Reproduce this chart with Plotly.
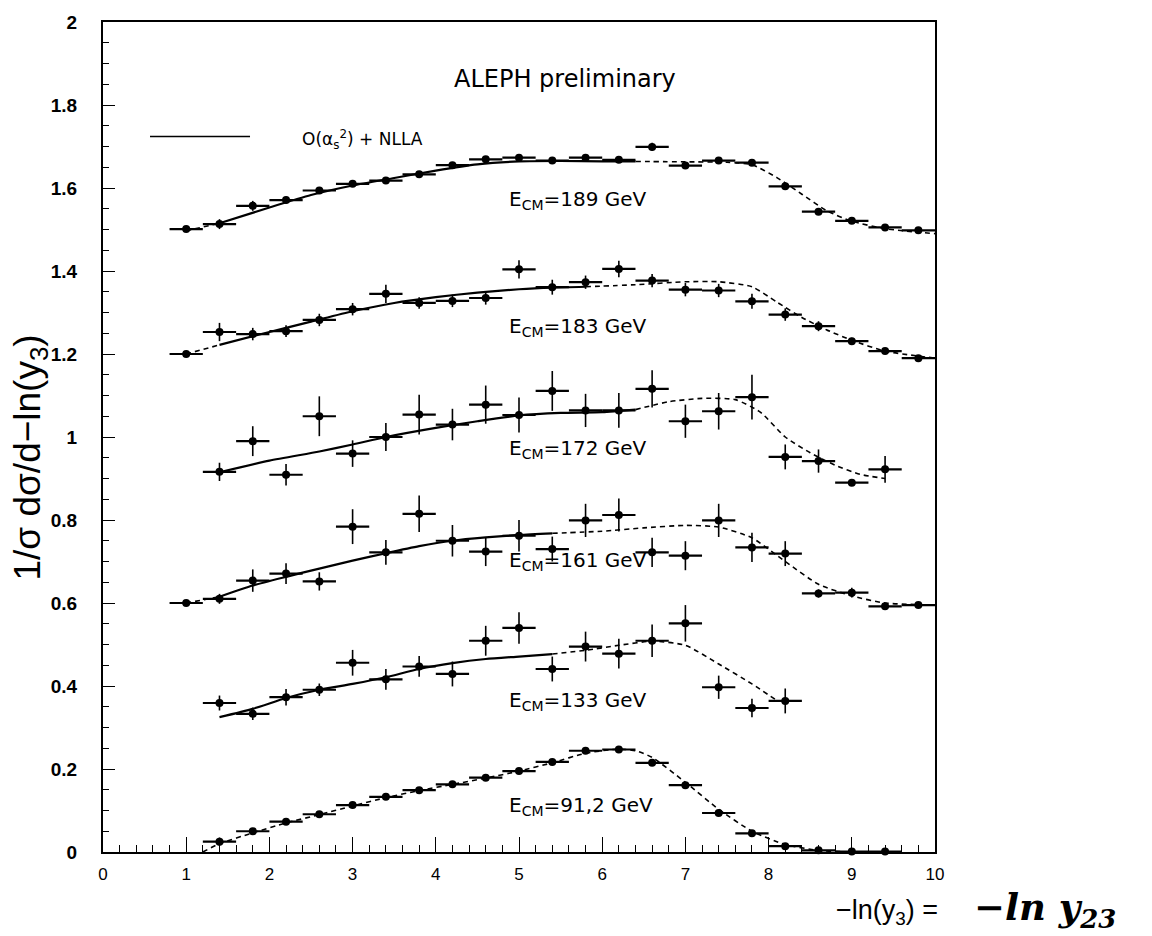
import plotly.graph_objects as go

# ---- measured distributions (bin centres, values, stat. errors) ----
bins_full = [1.0, 1.4, 1.8, 2.2, 2.6, 3.0, 3.4, 3.8, 4.2, 4.6, 5.0, 5.4,
             5.8, 6.2, 6.6, 7.0, 7.4, 7.8, 8.2, 8.6, 9.0, 9.4, 9.8]
bin_halfwidth = 0.2

y189 = [1.501, 1.513, 1.557, 1.571, 1.594, 1.610, 1.618, 1.633, 1.655, 1.669, 1.673, 1.666,
        1.673, 1.668, 1.699, 1.654, 1.666, 1.661, 1.604, 1.543, 1.521, 1.505, 1.498]
e189 = [0.004, 0.012, 0.012, 0.008, 0.007, 0.006, 0.006, 0.006, 0.006, 0.006, 0.006, 0.006,
        0.006, 0.006, 0.010, 0.008, 0.008, 0.008, 0.008, 0.008, 0.005, 0.004, 0.004]

y183 = [1.200, 1.253, 1.248, 1.255, 1.282, 1.308, 1.345, 1.323, 1.328, 1.335, 1.404, 1.361,
        1.373, 1.405, 1.377, 1.355, 1.353, 1.327, 1.295, 1.267, 1.231, 1.207, 1.190]
e183 = [0.005, 0.022, 0.015, 0.014, 0.015, 0.015, 0.022, 0.014, 0.015, 0.016, 0.022, 0.018,
        0.016, 0.020, 0.016, 0.016, 0.016, 0.018, 0.015, 0.012, 0.008, 0.005, 0.004]

bins172 = bins_full[1:22]
y172 = [0.916, 0.990, 0.909, 1.050, 0.960, 1.000, 1.054, 1.030, 1.078, 1.053, 1.111, 1.064,
        1.064, 1.116, 1.038, 1.062, 1.096, 0.952, 0.942, 0.890, 0.922]
e172 = [0.022, 0.036, 0.026, 0.048, 0.032, 0.034, 0.048, 0.038, 0.046, 0.042, 0.048, 0.040,
        0.042, 0.045, 0.040, 0.044, 0.054, 0.030, 0.028, 0.008, 0.032]

y161 = [0.600, 0.610, 0.654, 0.671, 0.652, 0.784, 0.722, 0.815, 0.750, 0.724, 0.762, 0.730,
        0.799, 0.812, 0.722, 0.714, 0.799, 0.734, 0.719, 0.623, 0.625, 0.592, 0.595]
e161 = [0.005, 0.012, 0.027, 0.025, 0.022, 0.042, 0.030, 0.044, 0.038, 0.035, 0.038, 0.030,
        0.040, 0.040, 0.035, 0.035, 0.040, 0.035, 0.030, 0.010, 0.012, 0.005, 0.005]

bins133 = bins_full[1:19]
y133 = [0.359, 0.333, 0.373, 0.391, 0.456, 0.416, 0.447, 0.429, 0.509, 0.540, 0.441, 0.495,
        0.478, 0.509, 0.551, 0.397, 0.347, 0.364]
e133 = [0.018, 0.015, 0.020, 0.015, 0.031, 0.025, 0.025, 0.030, 0.036, 0.038, 0.030, 0.036,
        0.036, 0.039, 0.044, 0.028, 0.022, 0.030]

bins91 = bins_full[1:22]
y91 = [0.025, 0.050, 0.073, 0.091, 0.113, 0.133, 0.149, 0.163, 0.179, 0.195, 0.217, 0.244,
       0.247, 0.215, 0.161, 0.094, 0.045, 0.014, 0.004, 0.001, 0.001]
e91 = [0.010, 0.005, 0.004, 0.004, 0.004, 0.004, 0.004, 0.004, 0.004, 0.004, 0.004, 0.004,
       0.004, 0.004, 0.004, 0.004, 0.004, 0.004, 0.003, 0.001, 0.001]

# ---- O(alpha_s^2)+NLLA predictions; solid inside the fit range, dashed outside ----
cx189 = [1.0, 1.4, 2.0, 2.5, 3.0, 3.5, 4.0, 4.5, 5.0, 5.5, 6.0, 6.4, 7.0, 7.5, 7.8, 8.1, 8.4, 8.7, 9.0, 9.4, 10.0]
cy189 = [1.497, 1.515, 1.553, 1.583, 1.606, 1.624, 1.642, 1.657, 1.664, 1.665, 1.664, 1.664,
         1.663, 1.662, 1.656, 1.625, 1.585, 1.545, 1.520, 1.502, 1.490]
fit189 = (1.4, 6.4)

cx183 = [1.0, 1.4, 2.0, 2.5, 3.0, 3.5, 4.0, 4.5, 5.0, 5.4, 5.8, 6.4, 7.0, 7.4, 7.8, 8.1, 8.4, 8.7, 9.0, 9.4, 10.0]
cy183 = [1.200, 1.222, 1.253, 1.278, 1.303, 1.323, 1.337, 1.348, 1.356, 1.360, 1.362, 1.367,
         1.374, 1.374, 1.362, 1.325, 1.288, 1.258, 1.233, 1.207, 1.190]
fit183 = (1.4, 5.8)

cx172 = [1.4, 2.0, 2.6, 3.0, 3.4, 4.0, 4.5, 5.0, 5.5, 6.0, 6.4, 6.8, 7.2, 7.6, 7.9, 8.2, 8.5, 8.8, 9.1, 9.4]
cy172 = [0.915, 0.943, 0.965, 0.982, 1.000, 1.022, 1.038, 1.052, 1.058, 1.060, 1.066, 1.085,
         1.093, 1.090, 1.060, 1.000, 0.962, 0.932, 0.910, 0.900]
fit172 = (1.4, 6.4)

cx161 = [1.0, 1.4, 1.8, 2.2, 2.6, 3.0, 3.4, 3.8, 4.2, 4.6, 5.0, 5.4, 6.0, 6.5, 7.0, 7.4, 7.8,
         8.2, 8.6, 9.0, 9.4, 10.0]
cy161 = [0.600, 0.615, 0.642, 0.663, 0.683, 0.702, 0.720, 0.737, 0.750, 0.758, 0.764, 0.768,
         0.773, 0.781, 0.787, 0.783, 0.757, 0.700, 0.645, 0.617, 0.600, 0.595]
fit161 = (1.4, 5.4)

cx133 = [1.4, 1.8, 2.2, 2.6, 3.0, 3.4, 3.8, 4.2, 4.6, 5.0, 5.4, 5.8, 6.2, 6.6, 7.0, 7.4, 7.8, 8.1]
cy133 = [0.325, 0.345, 0.371, 0.391, 0.405, 0.421, 0.441, 0.455, 0.465, 0.471, 0.477, 0.486,
         0.498, 0.508, 0.498, 0.453, 0.405, 0.365]
fit133 = (1.4, 5.4)

cx91 = [1.2, 1.4, 1.8, 2.2, 2.6, 3.0, 3.4, 3.8, 4.2, 4.6, 5.0, 5.4, 5.8, 6.2, 6.4, 6.6, 7.0,
        7.4, 7.8, 8.2, 8.6, 9.0]
cy91 = [0.000, 0.020, 0.046, 0.070, 0.090, 0.111, 0.131, 0.148, 0.163, 0.178, 0.195, 0.215,
        0.238, 0.248, 0.244, 0.228, 0.168, 0.103, 0.050, 0.018, 0.004, 0.000]
fit91 = None

energy_labels = ["189", "183", "172", "161", "133", "91,2"]
label_y = [1.572, 1.264, 0.971, 0.702, 0.365, 0.111]

data_sets = [
    (bins_full, y189, e189, cx189, cy189, fit189),
    (bins_full, y183, e183, cx183, cy183, fit183),
    (bins172, y172, e172, cx172, cy172, fit172),
    (bins_full, y161, e161, cx161, cy161, fit161),
    (bins133, y133, e133, cx133, cy133, fit133),
    (bins91, y91, e91, cx91, cy91, fit91),
]

FONT = "Liberation Sans"
WIDE = "DejaVu Sans"
fig = go.Figure()


def add_curve(xs, ys, dashed):
    fig.add_trace(go.Scatter(
        x=xs, y=ys, mode="lines", showlegend=False, hoverinfo="skip",
        line=dict(color="black", width=1.6 if dashed else 2.2,
                  dash="5px,4px" if dashed else "solid", shape="spline", smoothing=0.6),
    ))


for bx, by, be, cx, cy, fit in data_sets:
    if fit is None:
        add_curve(cx, cy, True)
    else:
        lo, hi = fit
        left = [(x, y) for x, y in zip(cx, cy) if x <= lo]
        mid = [(x, y) for x, y in zip(cx, cy) if lo <= x <= hi]
        right = [(x, y) for x, y in zip(cx, cy) if x >= hi]
        for seg, dashed in ((left, True), (mid, False), (right, True)):
            if len(seg) > 1:
                add_curve([p[0] for p in seg], [p[1] for p in seg], dashed)
    fig.add_trace(go.Scatter(
        x=bx, y=by, mode="markers", showlegend=False,
        marker=dict(color="black", size=8, symbol="circle"),
        error_x=dict(type="constant", value=bin_halfwidth, color="black", thickness=2.2, width=0),
        error_y=dict(type="data", array=be, color="black", thickness=1.6, width=0),
        cliponaxis=False,
    ))

annotations = []
for lab, ly in zip(energy_labels, label_y):
    annotations.append(dict(
        x=4.85, y=ly, xref="x", yref="y", xanchor="left", yanchor="middle", showarrow=False,
        text=f"E<sub>CM</sub>={lab} GeV", font=dict(family=WIDE, size=20, color="black"),
    ))

annotations += [
    dict(x=0.555, y=0.931, xref="paper", yref="paper", xanchor="center", yanchor="middle",
         showarrow=False, text="ALEPH preliminary", font=dict(family=WIDE, size=24, color="black")),
    dict(x=0.237, y=0.859, xref="paper", yref="paper", xanchor="left", yanchor="middle",
         showarrow=False, text="O(α<sub>s</sub><sup>2</sup>) + NLLA",
         font=dict(family=WIDE, size=17, color="black")),
    dict(x=-0.088, y=0.475, xref="paper", yref="paper", xanchor="center", yanchor="middle",
         showarrow=False, textangle=-90,
         text="1/σ dσ/d−ln(y<sub>3</sub>)", font=dict(family=FONT, size=37, color="black")),
    dict(x=0.879, y=-0.072, xref="paper", yref="paper", xanchor="left", yanchor="middle",
         showarrow=False, text="−ln(y<sub>3</sub>) =", font=dict(family=FONT, size=27, color="black")),
    dict(x=1.044, y=-0.069, xref="paper", yref="paper", xanchor="left", yanchor="middle",
         showarrow=False, text="<b><i>−ln y</i></b><sub><b><i>23</i></b></sub>",
         font=dict(family="DejaVu Serif", size=37, color="black")),
]

fig.update_layout(
    width=1152, height=936,
    margin=dict(l=103, r=217, t=20, b=84),
    paper_bgcolor="white", plot_bgcolor="white",
    annotations=annotations,
    shapes=[dict(type="line", xref="paper", yref="paper", x0=0.0565, x1=0.1767, y0=0.862, y1=0.862,
                 line=dict(color="black", width=1.6))],
)

fig.update_xaxes(
    range=[0, 10], dtick=1, tick0=0, ticks="inside", ticklen=15, tickwidth=1.2, tickcolor="black",
    minor=dict(dtick=0.2, ticks="inside", ticklen=7, tickwidth=1, tickcolor="black"),
    showgrid=False, zeroline=False, showline=True, linecolor="black", linewidth=2, mirror=True,
    tickfont=dict(family=FONT, size=17, color="black"), ticklabelstandoff=6,
)
fig.update_yaxes(
    range=[0, 2], dtick=0.2, tick0=0, ticks="inside", ticklen=12, tickwidth=1.2, tickcolor="black",
    minor=dict(dtick=0.05, ticks="inside", ticklen=6, tickwidth=1, tickcolor="black"),
    showgrid=False, zeroline=False, showline=True, linecolor="black", linewidth=2, mirror=True,
    tickfont=dict(family=FONT, size=19, color="black", weight="bold"), ticklabelstandoff=20,
    tickformat="~g",
)

fig.write_html("out.html")
